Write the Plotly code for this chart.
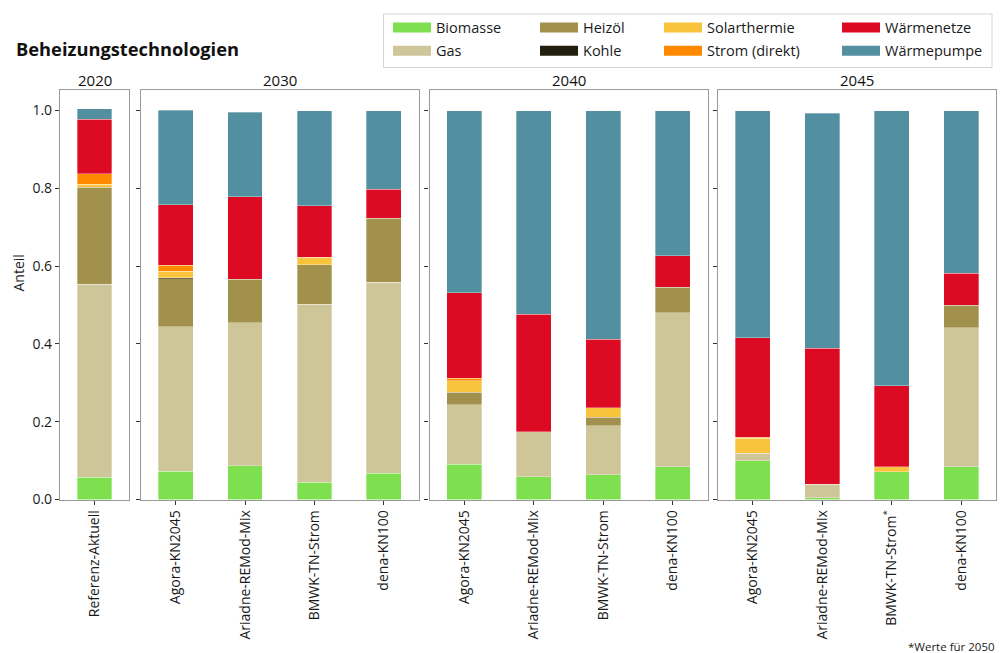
import plotly.graph_objects as go

# ---------------- data ----------------
years = ["2020", "2030", "2040", "2045"]
scenarios_2020 = ["Referenz-Aktuell"]
scenarios_2030 = ["Agora-KN2045", "Ariadne-REMod-Mix", "BMWK-TN-Strom", "dena-KN100"]
scenarios_2040 = ["Agora-KN2045", "Ariadne-REMod-Mix", "BMWK-TN-Strom", "dena-KN100"]
scenarios_2045 = ["Agora-KN2045", "Ariadne-REMod-Mix", "BMWK-TN-Strom<sup>*</sup>", "dena-KN100"]

technologies = ["Biomasse", "Gas", "Heizöl", "Kohle", "Solarthermie",
                "Strom (direkt)", "Wärmenetze", "Wärmepumpe"]

# order of values: 2020 ref | 2030 x4 | 2040 x4 | 2045 x4
biomasse     = [0.057, 0.073, 0.087, 0.044, 0.068, 0.090, 0.058, 0.064, 0.084, 0.100, 0.005, 0.071, 0.084]
gas          = [0.497, 0.371, 0.368, 0.458, 0.490, 0.153, 0.116, 0.125, 0.396, 0.019, 0.034, 0.000, 0.358]
heizoel      = [0.249, 0.123, 0.111, 0.101, 0.165, 0.033, 0.000, 0.022, 0.066, 0.000, 0.000, 0.000, 0.058]
kohle        = [0.000, 0.003, 0.000, 0.000, 0.000, 0.000, 0.000, 0.000, 0.000, 0.000, 0.000, 0.000, 0.000]
solarthermie = [0.008, 0.017, 0.000, 0.018, 0.000, 0.029, 0.000, 0.025, 0.000, 0.038, 0.000, 0.013, 0.000]
strom_direkt = [0.026, 0.015, 0.000, 0.002, 0.000, 0.007, 0.000, 0.000, 0.000, 0.003, 0.000, 0.000, 0.000]
waermenetze  = [0.140, 0.156, 0.212, 0.132, 0.074, 0.219, 0.302, 0.176, 0.081, 0.256, 0.350, 0.209, 0.082]
waermepumpe  = [0.028, 0.243, 0.217, 0.245, 0.203, 0.469, 0.524, 0.588, 0.373, 0.584, 0.604, 0.707, 0.418]

y_ticks = [0.0, 0.2, 0.4, 0.6, 0.8, 1.0]

# ---------------- styling ----------------
colors = ["#7FE04F", "#CEC599", "#A2914C", "#231F0F", "#F9C33B", "#FF8A00", "#DD0A23", "#528FA0"]
FONT = "Open Sans"
W, H = 1000, 653

series = [biomasse, gas, heizoel, kohle, solarthermie, strom_direkt, waermenetze, waermepumpe]
panels = [scenarios_2020, scenarios_2030, scenarios_2040, scenarios_2045]

# panel pixel extents (left, right)
panel_px = [(60, 129), (141, 418.5), (429.5, 707.5), (718, 996)]
y_top_px, y_bot_px = 89.5, 499.5


def px(x):
    return x / W


def py(y):
    return 1 - y / H


fig = go.Figure()

start = 0
for p, scen in enumerate(panels):
    n = len(scen)
    ax = "" if p == 0 else str(p + 1)
    for t, name in enumerate(technologies):
        vals = series[t][start:start + n]
        vals = [v if v > 0 else None for v in vals]
        fig.add_trace(go.Bar(
            x=scen, y=vals, name=name,
            marker=dict(color=colors[t], line=dict(width=0.6, color="rgba(255,255,255,0.55)")),
            width=0.5, xaxis="x" + ax, yaxis="y" + ax,
            showlegend=False, legendgroup=name,
        ))
    start += n

# legend entries (four columns, two rows each)
legend_cols = [["Biomasse", "Gas"], ["Heizöl", "Kohle"],
               ["Solarthermie", "Strom (direkt)"], ["Wärmenetze", "Wärmepumpe"]]
legend_names = ["legend", "legend2", "legend3", "legend4"]
for c, col in enumerate(legend_cols):
    for name in col:
        t = technologies.index(name)
        fig.add_trace(go.Scatter(
            x=[None], y=[None], mode="lines", name=name,
            line=dict(color=colors[t], width=12),
            legend=legend_names[c], legendgroup=name,
            xaxis="x", yaxis="y", showlegend=True, hoverinfo="skip",
        ))

layout = dict(
    width=W, height=H,
    margin=dict(l=0, r=0, t=0, b=0, autoexpand=False),
    paper_bgcolor="white", plot_bgcolor="white",
    barmode="stack",
    font=dict(family=FONT, size=13, color="#1a1a1a"),
    showlegend=True,
)

for p, scen in enumerate(panels):
    ax = "" if p == 0 else str(p + 1)
    l, r = panel_px[p]
    layout["xaxis" + ax] = dict(
        domain=[px(l), px(r)], anchor="y" + ax,
        type="category", range=[-0.5, len(scen) - 0.5],
        showline=True, mirror=True, linecolor="#9a9a9a", linewidth=1.2,
        ticks="outside", ticklen=4, tickcolor="#333", tickangle=-90,
        tickfont=dict(size=14, family=FONT, color="#1a1a1a"),
        showgrid=False, zeroline=False, fixedrange=True, automargin=False,
    )
    layout["yaxis" + ax] = dict(
        domain=[py(y_bot_px), py(y_top_px)], anchor="x" + ax,
        range=[0, 1.054], tickvals=y_ticks, tickformat=".1f",
        showline=True, mirror=True, linecolor="#9a9a9a", linewidth=1.2,
        ticks="outside", ticklen=4, tickcolor="#333",
        showticklabels=(p == 0),
        tickfont=dict(size=14, family=FONT, color="#1a1a1a"),
        showgrid=False, zeroline=False, fixedrange=True, automargin=False,
    )

legend_x_px = [388, 535, 659, 837]
for c, lname in enumerate(legend_names):
    layout[lname] = dict(
        x=px(legend_x_px[c]), y=py(11.5), xanchor="left", yanchor="top",
        orientation="v", bgcolor="rgba(0,0,0,0)", borderwidth=0,
        font=dict(size=14.5, family=FONT, color="#1a1a1a"),
        tracegroupgap=1.5, itemwidth=38, itemclick=False, itemdoubleclick=False,
    )

fig.update_layout(**layout)

# legend frame
fig.add_shape(type="rect", xref="paper", yref="paper",
              x0=px(383.5), x1=px(992), y0=py(67.5), y1=py(14),
              line=dict(color="#d4d4d4", width=1), fillcolor="rgba(0,0,0,0)", layer="below")

# title
fig.add_annotation(text="<b>Beheizungstechnologien</b>", xref="paper", yref="paper",
                   x=px(14), y=py(48), xanchor="left", yanchor="middle", showarrow=False,
                   font=dict(size=18.3, family=FONT, color="#111"))

# panel titles
for p, yr in enumerate(years):
    l, r = panel_px[p]
    fig.add_annotation(text=yr, xref="paper", yref="paper",
                       x=px((l + r) / 2), y=py(80), xanchor="center", yanchor="middle",
                       showarrow=False, font=dict(size=15, family=FONT, color="#111"))

# y axis title
fig.add_annotation(text="Anteil", xref="paper", yref="paper",
                   x=px(17.5), y=py(273), xanchor="center", yanchor="middle",
                   textangle=-90, showarrow=False, font=dict(size=14, family=FONT, color="#1a1a1a"))

# footnote
fig.add_annotation(text="*Werte für 2050", xref="paper", yref="paper",
                   x=px(997), y=py(646), xanchor="right", yanchor="middle",
                   showarrow=False, font=dict(size=11.5, family=FONT, color="#1a1a1a"))

fig.write_html(
    "out.html",
    config={"displayModeBar": False},
    post_script="document.body.style.margin='0px';",
)
